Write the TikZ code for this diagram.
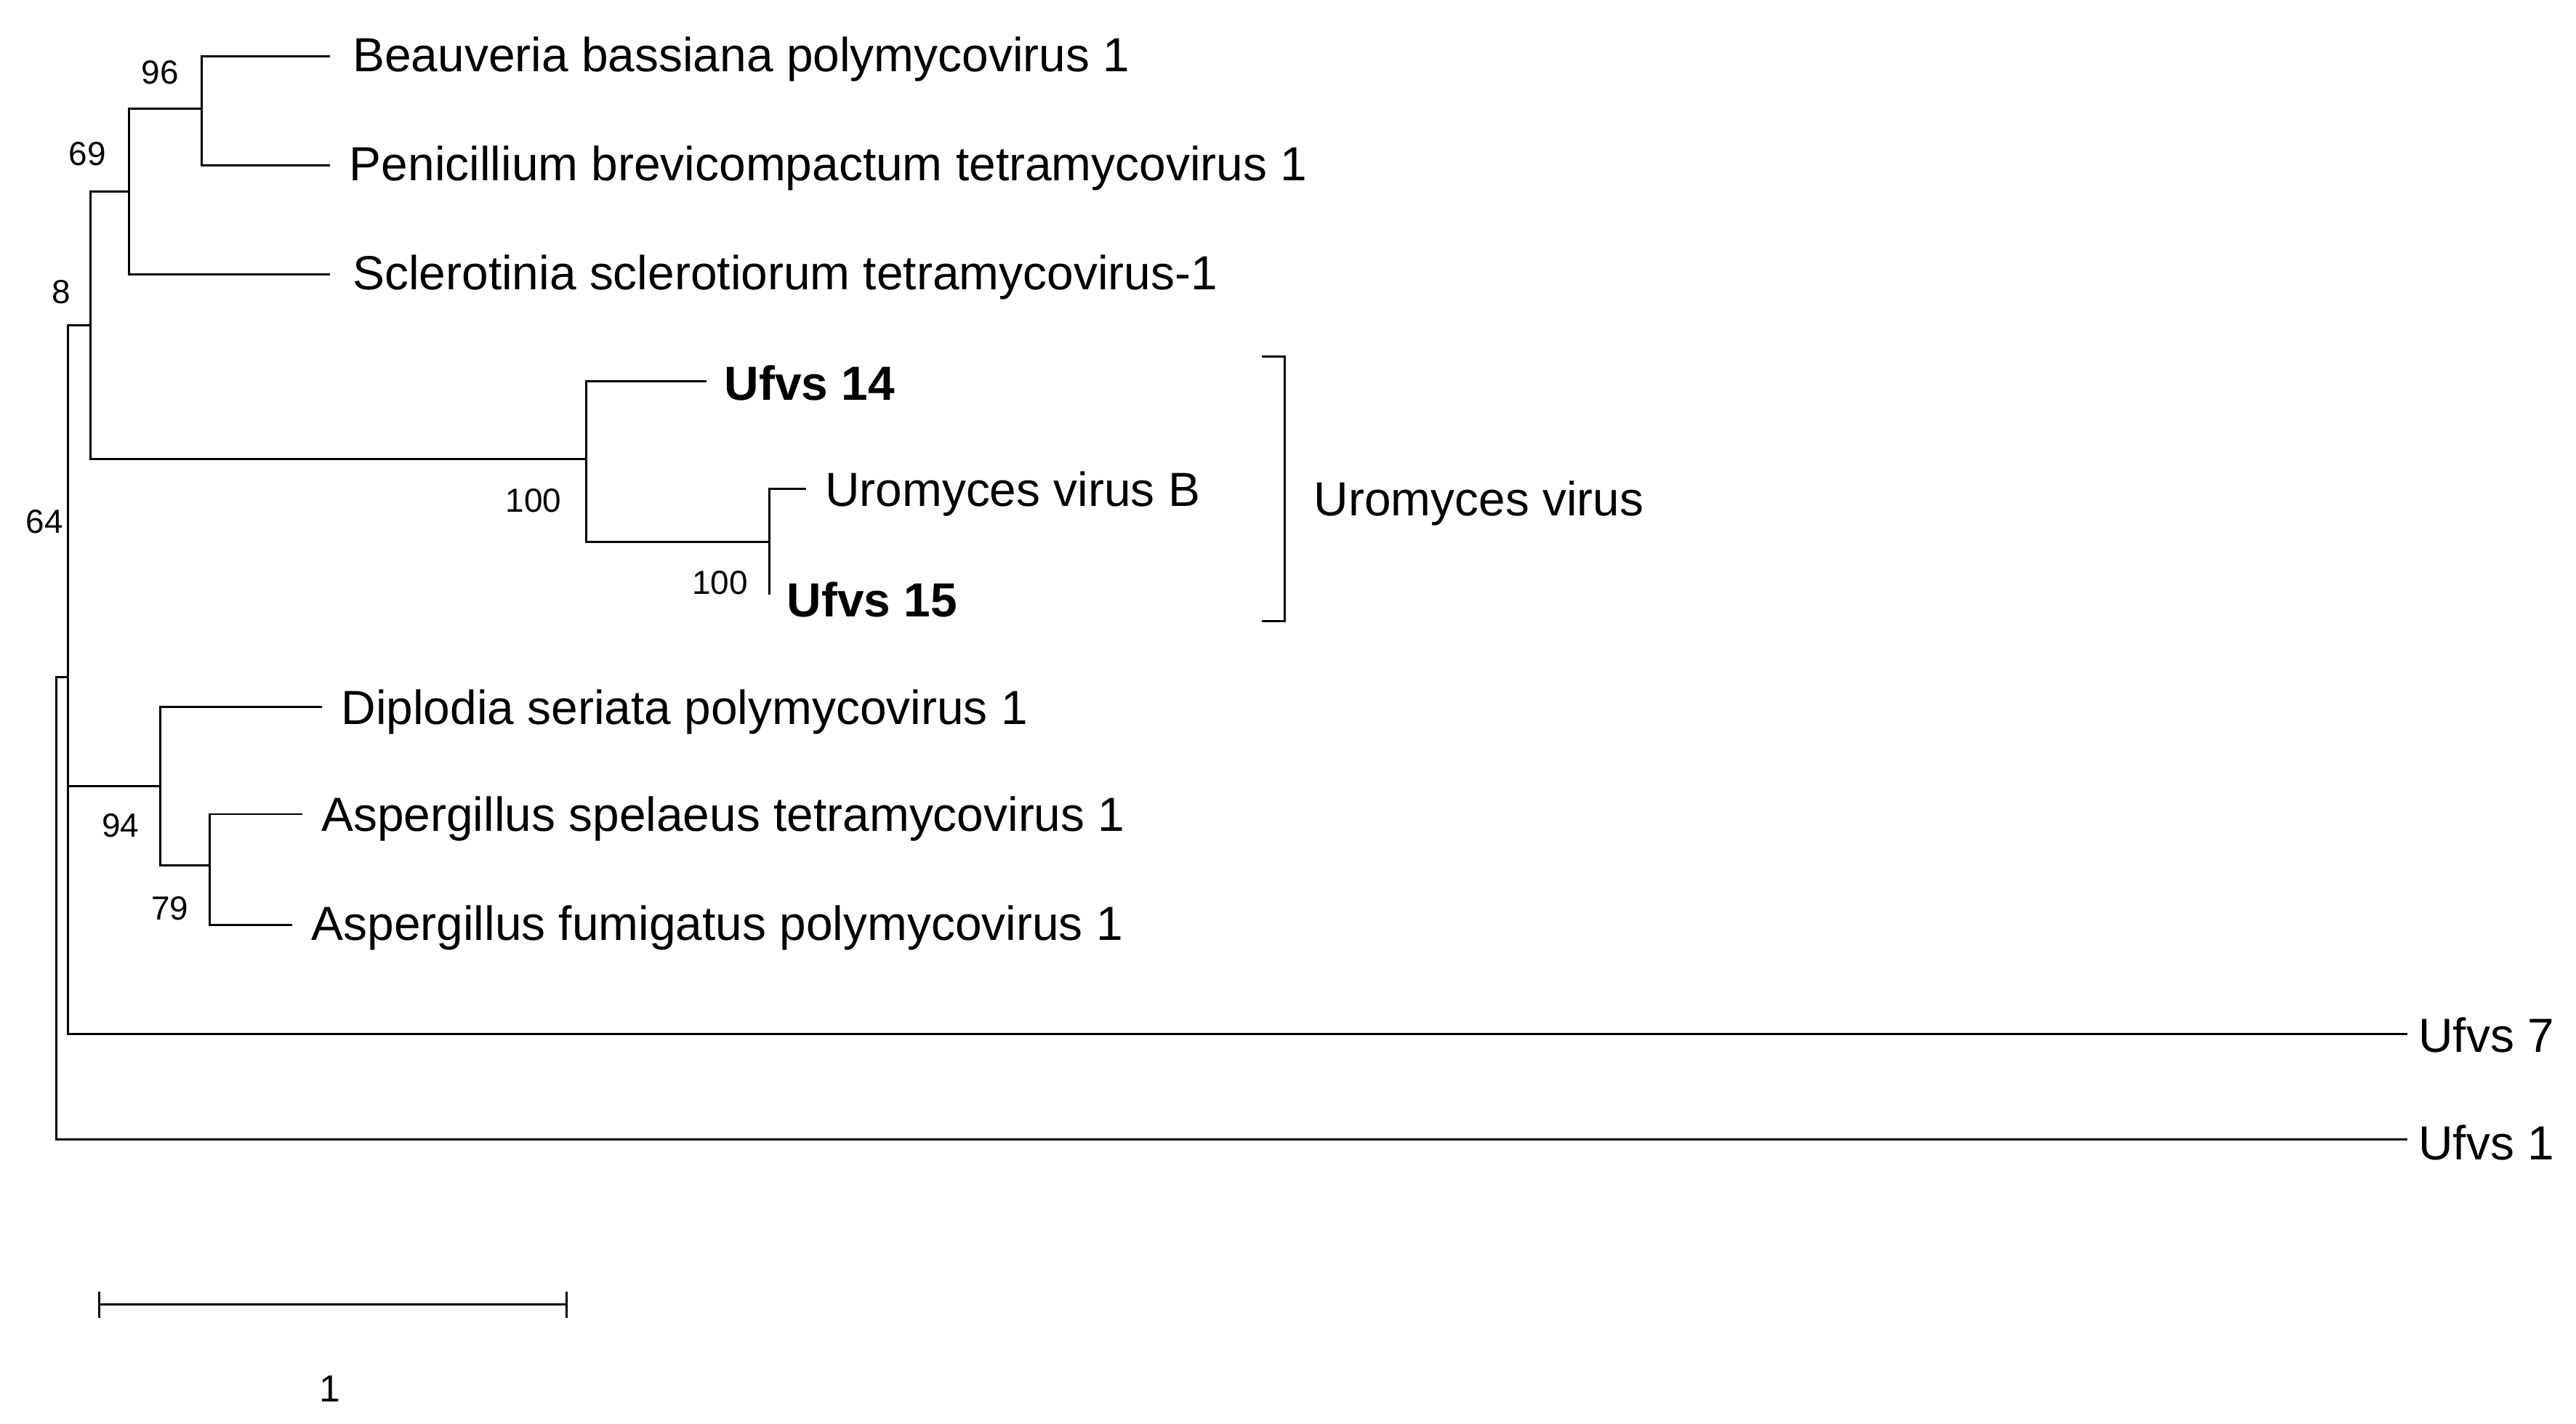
\documentclass[tikz,border=0pt]{standalone}
\usepackage{fontspec}
\setmainfont{Liberation Sans}
\begin{document}
\begin{tikzpicture}[x=0.02cm,y=-0.02cm,line width=0.75pt,
 lab/.style={anchor=west,inner sep=0pt,font=\fontsize{16.5}{19}\selectfont},
 blab/.style={lab,font=\fontsize{16.5}{19}\selectfont\bfseries},
 sup/.style={inner sep=0pt,font=\fontsize{11.5}{13}\selectfont}]
\useasboundingbox (0,0) rectangle (1560,862);
% tips
\node[lab] (t1) at (213,36) {Beauveria bassiana polymycovirus 1};
\node[lab] (t2) at (211,102) {Penicillium brevicompactum tetramycovirus 1};
\node[lab] (t3) at (213,168) {Sclerotinia sclerotiorum tetramycovirus-1};
\node[blab] (t4) at (438,232) {Ufvs 14};
\node[lab] (t5) at (499,299) {Uromyces virus B};
\node[blab] (t6) at (476,363) {Ufvs 15};
\node[lab] (t7) at (206,431) {Diplodia seriata polymycovirus 1};
\node[lab] (t8) at (194,496) {Aspergillus spelaeus tetramycovirus 1};
\node[lab] (t9) at (188,562) {Aspergillus fumigatus polymycovirus 1};
\node[lab] (t10) at (1464,627) {Ufvs 7};
\node[lab] (t11) at (1464,692) {Ufvs 1};
\node[lab] (grp) at (795,305) {Uromyces virus};
% support values
\node[sup] (s96) at (97,44) {96};
\node[sup] (s69) at (53,93) {69};
\node[sup] (s8) at (37,177) {8};
\node[sup] (s64) at (27,316) {64};
\node[sup] (s100a) at (323,303) {100};
\node[sup] (s100b) at (436,353) {100};
\node[sup] (s94) at (73,500) {94};
\node[sup] (s79) at (103,550) {79};
% tree
\draw (200,34) -| (122,100) -- (200,100);
\draw (122,66) -| (78,166) -- (200,166);
\draw (78,116) -| (55,278) -- (355,278);
\draw (428,231) -| (355,328) -- (466,328);
\draw (488,296) -| (466,360);
\draw (55,197) -| (41,626) -- (1458,626);
\draw (41,476) -- (97,476);
\draw (195,428) -| (97,524) -- (127,524);
\draw (183,493) -| (127,560) -- (177,560);
\draw (41,410) -| (34,690) -- (1458,690);
% bracket
\draw (764,216) -| (778,376) -- (764,376);
% scale bar
\draw (60,782) -- (60,798) (60,790) -- (343,790) (343,782) -- (343,798);
\node[sup,font=\fontsize{13}{15}\selectfont] (sc) at (200,841) {1};
\end{tikzpicture}
\end{document}
